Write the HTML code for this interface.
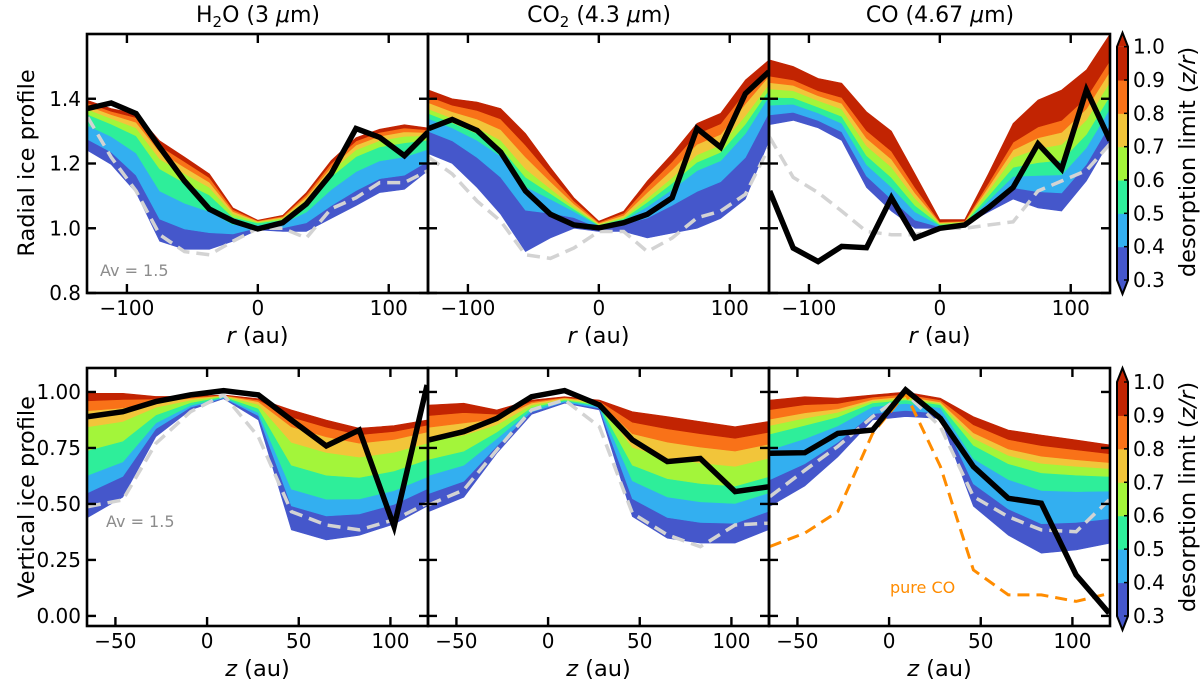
<!DOCTYPE html>
<html><head><meta charset="utf-8"><style>
html,body{margin:0;padding:0;background:#fff;}
svg{display:block;font-family:"DejaVu Sans","Liberation Sans",sans-serif;}
</style></head><body>
<svg id="fig" width="1200" height="684" viewBox="0 0 1200 684" xmlns="http://www.w3.org/2000/svg"></svg>
<script>
// ---- data ----
const rGrid = [-130,-112,-93,-75,-56,-37,-19,0,19,37,56,75,93,112,130];
const zGrid = [-65,-46,-28,-9,9,28,46,65,83,102,120];
const levels = [0.3,0.4,0.5,0.6,0.7,0.8,0.9,1.0];
const bandColors = ['#4557cb','#33aff0','#2eee9a','#a3f53a','#f2c53a','#f97218','#c22402'];

const h2oRadObs  = [1.37,1.387,1.354,1.25,1.146,1.059,1.022,0.998,1.017,1.075,1.168,1.308,1.281,1.224,1.297];
const h2oRadAv   = [1.343,1.219,1.115,0.98,0.928,0.918,0.96,1.0,1.0,0.97,1.06,1.094,1.141,1.141,1.178];
const h2oRadLo   = [1.24,1.197,1.11,0.96,0.935,0.935,0.96,0.995,0.99,0.99,1.03,1.07,1.11,1.12,1.178];
const h2oRadHi   = [1.395,1.37,1.354,1.27,1.22,1.168,1.063,1.025,1.04,1.11,1.209,1.28,1.306,1.32,1.31];
const h2oRadFrac = [0,0.22,0.5,0.72,0.82,0.89,0.95,1];

const co2RadObs  = [1.308,1.336,1.302,1.235,1.115,1.043,1.01,1.001,1.017,1.043,1.094,1.308,1.25,1.416,1.484];
const co2RadAv   = [1.219,1.168,1.084,1.022,0.918,0.907,0.939,0.99,0.99,0.928,0.97,1.032,1.053,1.105,1.25];
const co2RadLo   = [1.23,1.2,1.126,1.043,0.928,0.97,1.0,0.99,0.99,0.97,0.985,1.0,1.03,1.09,1.27];
const co2RadHi   = [1.427,1.40,1.39,1.37,1.293,1.188,1.094,1.022,1.053,1.146,1.23,1.324,1.355,1.458,1.52];
const co2RadFrac = [0,0.35,0.55,0.63,0.7,0.8,0.9,1];

const coRadObs   = [1.115,0.939,0.897,0.944,0.94,1.094,0.97,1.0,1.01,1.063,1.126,1.261,1.183,1.427,1.271];
const coRadAv    = [1.281,1.157,1.11,1.053,0.99,0.98,0.98,1.0,1.0,1.01,1.02,1.115,1.146,1.178,1.261];
const coRadLo    = [1.32,1.333,1.31,1.271,1.126,1.053,1.0,1.0,1.01,1.05,1.09,1.063,1.053,1.146,1.271];
const coRadHi    = [1.52,1.5,1.463,1.448,1.36,1.30,1.168,1.027,1.027,1.168,1.324,1.396,1.427,1.489,1.6];
const coRadFrac  = [0,0.15,0.3,0.42,0.55,0.65,0.75,1];

const h2oVerObs  = [0.89,0.912,0.957,0.987,1.006,0.987,0.875,0.759,0.83,0.399,1.031];
const h2oVerAv   = [0.488,0.518,0.77,0.912,0.987,0.80,0.466,0.406,0.384,0.429,0.503];
const h2oVerLo   = [0.44,0.53,0.8,0.92,0.97,0.875,0.384,0.339,0.36,0.41,0.49];
const h2oVerHi   = [0.994,0.994,0.98,0.98,0.987,0.97,0.92,0.875,0.838,0.85,0.875];
const h2oVerFrac = [0,0.2,0.34,0.54,0.73,0.86,0.94,1];

const co2VerObs  = [0.786,0.823,0.882,0.979,1.006,0.942,0.786,0.689,0.703,0.555,0.576];
const co2VerAv   = [0.496,0.5625,0.741,0.92,0.964,0.845,0.458,0.362,0.309,0.406,0.414];
const co2VerLo   = [0.466,0.53,0.726,0.9,0.95,0.92,0.444,0.347,0.325,0.325,0.384];
const co2VerHi   = [0.942,0.95,0.92,0.964,0.979,0.964,0.912,0.89,0.868,0.845,0.868];
const co2VerFrac = [0,0.17,0.34,0.49,0.66,0.79,0.9,1];

const coVerObs   = [0.726,0.729,0.815,0.83,1.009,0.882,0.667,0.525,0.503,0.183,0.012];
const coVerAv    = [0.533,0.65,0.757,0.89,0.994,0.845,0.533,0.443,0.384,0.376,0.518];
const coVerPure  = [0.31,0.37,0.466,0.815,0.994,0.667,0.205,0.094,0.094,0.065,0.1];
const coVerLo    = [0.49,0.58,0.71,0.875,0.89,0.882,0.49,0.36,0.28,0.295,0.324];
const coVerHi    = [0.964,0.979,0.972,0.987,1.0,0.972,0.89,0.83,0.808,0.786,0.764];
const coVerFrac  = [0,0.25,0.53,0.68,0.76,0.82,0.91,1];

const rTicks = [-100,0,100];
const zTicks = [-50,0,50,100];
const radYTicks = [0.8,1.0,1.2,1.4];
const radYLabels = ['0.8','1.0','1.2','1.4'];
const verYTicks = [0,0.25,0.5,0.75,1.0];
const verYLabels = ['0.00','0.25','0.50','0.75','1.00'];
const cbTicks = [0.3,0.4,0.5,0.6,0.7,0.8,0.9,1.0];
const cbLabels = ['0.3','0.4','0.5','0.6','0.7','0.8','0.9','1.0'];

// ---- drawing ----
const NS='http://www.w3.org/2000/svg';
const svg=document.getElementById('fig');
function mk(tag,attrs,parent){const e=document.createElementNS(NS,tag);for(const k in attrs)e.setAttribute(k,attrs[k]);(parent||svg).appendChild(e);return e;}
function txt(s,attrs,parent){const e=mk('text',attrs,parent);e.textContent=s;return e;}

const panels=[
 {key:'h2o-radial',x0:87,x1:428,y0:34,y1:293,xmin:-130.5,xmax:130,ymin:0.8,ymax:1.6,xs:rGrid,obs:h2oRadObs,av:h2oRadAv,lo:h2oRadLo,hi:h2oRadHi,fr:h2oRadFrac,xt:rTicks,yt:radYTicks},
 {key:'co2-radial',x0:428,x1:769,y0:34,y1:293,xmin:-130.5,xmax:130,ymin:0.8,ymax:1.6,xs:rGrid,obs:co2RadObs,av:co2RadAv,lo:co2RadLo,hi:co2RadHi,fr:co2RadFrac,xt:rTicks,yt:radYTicks},
 {key:'co-radial',x0:769,x1:1110,y0:34,y1:293,xmin:-130.5,xmax:130,ymin:0.8,ymax:1.6,xs:rGrid,obs:coRadObs,av:coRadAv,lo:coRadLo,hi:coRadHi,fr:coRadFrac,xt:rTicks,yt:radYTicks},
 {key:'h2o-vertical',x0:87,x1:428,y0:368,y1:626,xmin:-65.5,xmax:120.5,ymin:-0.045,ymax:1.107,xs:zGrid,obs:h2oVerObs,av:h2oVerAv,lo:h2oVerLo,hi:h2oVerHi,fr:h2oVerFrac,xt:zTicks,yt:verYTicks},
 {key:'co2-vertical',x0:428,x1:769,y0:368,y1:626,xmin:-65.5,xmax:120.5,ymin:-0.045,ymax:1.107,xs:zGrid,obs:co2VerObs,av:co2VerAv,lo:co2VerLo,hi:co2VerHi,fr:co2VerFrac,xt:zTicks,yt:verYTicks},
 {key:'co-vertical',x0:769,x1:1110,y0:368,y1:626,xmin:-65.5,xmax:120.5,ymin:-0.045,ymax:1.107,xs:zGrid,obs:coVerObs,av:coVerAv,lo:coVerLo,hi:coVerHi,fr:coVerFrac,xt:zTicks,yt:verYTicks,pure:coVerPure}
];

const defs=mk('defs',{});
panels.forEach((p,pi)=>{
  const sx=v=>p.x0+(v-p.xmin)/(p.xmax-p.xmin)*(p.x1-p.x0);
  const sy=v=>p.y1-(v-p.ymin)/(p.ymax-p.ymin)*(p.y1-p.y0);
  const cp=mk('clipPath',{id:'clip'+pi},defs);
  mk('rect',{x:p.x0,y:p.y0,width:p.x1-p.x0,height:p.y1-p.y0},cp);
  const g=mk('g',{'clip-path':'url(#clip'+pi+')'});
  
  
  const curve=f=>p.lo.map((l,i)=>l+(p.hi[i]-l)*f);
  for(let b=0;b<7;b++){
    const a=curve(p.fr[b]),c=curve(p.fr[b+1]);
    let d='';
    p.xs.forEach((x,i)=>{d+=(i?'L':'M')+sx(x).toFixed(1)+','+sy(c[i]).toFixed(1);});
    for(let i=p.xs.length-1;i>=0;i--)d+='L'+sx(p.xs[i]).toFixed(1)+','+sy(a[i]).toFixed(1);
    const band=mk('path',{d:d+'Z',fill:bandColors[b],stroke:bandColors[b],'stroke-width':0.6},g);
    
    
  }
  const line=(arr)=>arr.map((v,i)=>(i?'L':'M')+sx(p.xs[i]).toFixed(1)+','+sy(v).toFixed(1)).join('');
  const av=mk('path',{d:line(p.av),fill:'none',stroke:'#d3d3d3','stroke-width':3.5,'stroke-dasharray':'13,7'},g);
  
  
  if(p.pure){
    const pu=mk('path',{d:line(p.pure),fill:'none',stroke:'#ff8c00','stroke-width':3,'stroke-dasharray':'12,7'},g);
    
    
  }
  const ob=mk('path',{d:line(p.obs),fill:'none',stroke:'#000','stroke-width':5.5,'stroke-linejoin':'miter'},g);
  
  
  const fr=mk('rect',{x:p.x0,y:p.y0,width:p.x1-p.x0,height:p.y1-p.y0,fill:'none',stroke:'#000','stroke-width':2.6});
  
  
  const tg=mk('g',{stroke:'#000','stroke-width':2.4});
  
  
  p.xt.forEach(v=>{const x=sx(v);mk('line',{x1:x,x2:x,y1:p.y1,y2:p.y1-9},tg);mk('line',{x1:x,x2:x,y1:p.y0,y2:p.y0+9},tg);
    const t=txt(String(v).replace('-','\u2212'),{x:x,y:p.y1+22,'font-size':20,'text-anchor':'middle',fill:'#000'});
    
    });
  p.yt.forEach(v=>{const y=sy(v);mk('line',{x1:p.x0,x2:p.x0+9,y1:y,y2:y},tg);mk('line',{x1:p.x1,x2:p.x1-9,y1:y,y2:y},tg);});
  const xl=txt('',{x:(p.x0+p.x1)/2,y:p.y1+50,'font-size':22.5,'text-anchor':'middle'});
  
  
  const it=mk('tspan',{'font-style':'italic'},xl);it.textContent=(pi<3?'r':'z');
  const rest=mk('tspan',{},xl);rest.textContent=' (au)';
  if(pi===0||pi===3){
    p.yt.forEach((v,i)=>{const t=txt((pi===0?radYLabels:verYLabels)[i],{x:p.x0-6,y:sy(v)+7,'font-size':20,'text-anchor':'end'});
      
      });
  }
});

[['H','2','O (3 ',258],['CO','2',' (4.3 ',599],['CO','',' (4.67 ',940]].forEach((a,i)=>{
  const t=txt('',{x:a[3],y:22,'font-size':22,'text-anchor':'middle'});
  
  
  mk('tspan',{},t).textContent=a[0];
  if(a[1]){mk('tspan',{'font-size':15,dy:5},t).textContent=a[1];mk('tspan',{dy:-5},t).textContent=a[2];}
  else mk('tspan',{},t).textContent=a[2];
  mk('tspan',{'font-style':'italic'},t).textContent='\u03bc';
  mk('tspan',{},t).textContent='m)';
});
const yl1=txt('Radial ice profile',{x:0,y:0,'font-size':22.5,'text-anchor':'middle',transform:'translate(34,163) rotate(-90)'});


const yl2=txt('Vertical ice profile',{x:0,y:0,'font-size':22.5,'text-anchor':'middle',transform:'translate(34,497) rotate(-90)'});


const av1=txt('Av = 1.5',{x:100,y:276,'font-size':16,fill:'#8c8c8c'});


const av2=txt('Av = 1.5',{x:106,y:527,'font-size':16,fill:'#8c8c8c'});


const pc=txt('pure CO',{x:890,y:593,'font-size':16,fill:'#ff8c00'});



[[46.7,280,162],[382,616,497]].forEach((c,ci)=>{
  const top=c[0],bot=c[1],x0=1117,x1=1128,h=(bot-top)/7;
  const g=mk('g',{});
  
  
  for(let b=0;b<7;b++)mk('rect',{x:x0,y:bot-(b+1)*h,width:x1-x0,height:h+0.5,fill:bandColors[b]},g);
  mk('path',{d:`M${x0},${top}L${(x0+x1)/2},${top-14}L${x1},${top}Z`,fill:'#c22402'},g);
  mk('path',{d:`M${x0},${bot}L${(x0+x1)/2},${bot+14}L${x1},${bot}Z`,fill:'#4557cb'},g);
  mk('path',{d:`M${x0},${top}L${(x0+x1)/2},${top-14}L${x1},${top}L${x1},${bot}L${(x0+x1)/2},${bot+14}L${x0},${bot}Z`,fill:'none',stroke:'#000','stroke-width':2},g);
  cbTicks.forEach((v,i)=>{const y=bot-(v-0.3)/0.7*(bot-top);
    mk('line',{x1:x1-4,x2:x1,y1:y,y2:y,stroke:'#000','stroke-width':1.5},g);
    const t=txt(cbLabels[i],{x:1133,y:y+7,'font-size':20});
    
    });
  const lab=txt('',{x:0,y:0,'font-size':22.5,'text-anchor':'middle',transform:`translate(1195,${c[2]}) rotate(-90)`});
  
  
  mk('tspan',{},lab).textContent='desorption limit (';
  mk('tspan',{'font-style':'italic'},lab).textContent='z/r';
  mk('tspan',{},lab).textContent=')';
});
</script>
</body></html>
